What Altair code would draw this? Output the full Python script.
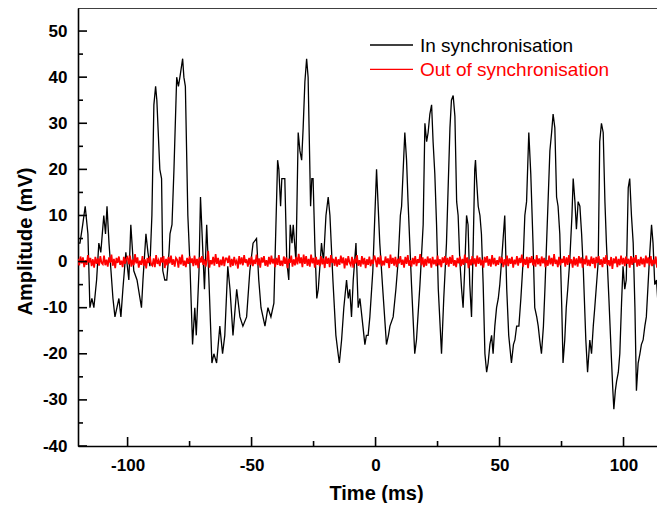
import altair as alt
import pandas as pd

SERIES = ["In synchronisation", "Out of synchronisation"]
COLORS = ["#000000", "#ff0000"]

# In synchronisation: time (ms)
sync_t = [
    -120.0, -119.2, -118.1, -117.1, -116.0, -115.2, -114.4, -113.6, -112.5, -111.6,
    -110.8, -109.6, -108.9, -108.3, -107.5, -105.9, -105.1, -104.3, -103.5, -102.7,
    -101.9, -100.7, -99.5, -98.7, -97.5, -96.2, -95.0, -94.4, -93.8, -92.6,
    -91.8, -91.0, -90.2, -89.4, -88.7, -88.2, -87.0, -86.3, -85.8, -85.0,
    -84.2, -83.3, -82.9, -82.1, -81.3, -80.2, -79.5, -78.9, -77.8, -77.3,
    -76.7, -75.7, -74.9, -73.8, -72.9, -72.3, -71.2, -70.6, -69.8, -69.0,
    -68.1, -67.2, -66.0, -65.2, -64.1, -62.8, -61.7, -60.8, -59.6, -58.7,
    -57.5, -56.0, -54.7, -53.5, -52.0, -50.7, -49.4, -48.0, -47.1, -46.2,
    -44.6, -43.4, -42.2, -41.0, -39.5, -39.0, -38.3, -37.8, -36.6, -35.8,
    -35.0, -34.4, -33.7, -33.2, -32.1, -31.2, -30.5, -29.8, -29.2, -28.5,
    -27.8, -27.2, -26.2, -25.7, -25.2, -24.5, -23.7, -23.1, -21.8, -21.0,
    -20.0, -19.1, -18.4, -17.2, -16.0, -15.1, -14.6, -13.7, -12.8, -11.7,
    -11.0, -10.4, -9.7, -9.0, -7.9, -7.0, -6.3, -5.1, -4.3, -3.7,
    -3.0, -2.3, -1.1, 0.4, 1.7, 2.9, 4.4, 5.2, 5.8, 7.1,
    8.2, 9.1, 10.0, 10.5, 11.8, 12.5, 13.1, 13.8, 14.5, 15.8,
    16.5, 17.9, 19.2, 19.9, 20.6, 21.2, 21.9, 22.6, 23.2, 23.9,
    24.6, 25.3, 26.6, 27.5, 28.6, 30.0, 30.6, 31.3, 32.0, 32.7,
    33.3, 34.0, 34.7, 35.3, 36.0, 36.7, 37.3, 38.0, 38.7, 39.4,
    40.0, 40.3, 40.7, 41.4, 42.1, 42.7, 43.4, 44.1, 44.8, 45.4,
    46.1, 46.8, 47.4, 48.1, 48.8, 49.5, 50.1, 50.8, 52.1, 52.9,
    53.7, 54.8, 55.6, 56.2, 56.9, 57.8, 58.6, 59.5, 60.2, 60.9,
    61.8, 62.6, 63.5, 64.2, 65.0, 65.6, 66.2, 66.9, 67.7, 68.3,
    69.5, 70.3, 71.0, 71.6, 72.3, 73.0, 73.6, 74.3, 75.1, 75.6,
    76.3, 76.9, 77.5, 78.3, 79.2, 79.7, 80.4, 81.0, 81.7, 82.4,
    83.1, 83.8, 84.8, 85.5, 86.4, 87.1, 87.8, 88.4, 89.8, 90.4,
    91.1, 91.8, 92.5, 93.1, 94.1, 95.2, 95.7, 96.1, 96.7, 97.2,
    97.9, 98.5, 99.2, 99.8, 100.5, 101.1, 101.9, 102.5, 103.2, 103.9,
    104.6, 105.2, 105.9, 106.6, 107.2, 107.9, 108.6, 109.2, 109.9, 110.6,
    111.3, 111.9, 112.6, 113.3, 114.0, 114.6, 115.3, 116.0, 116.7,
]

# In synchronisation: amplitude (mV)
sync_v = [
    4, 4, 8, 12, 6, -10, -8, -10, -4, 4,
    2, 10, 6, 12, 4, -8, -12, -10, -8, -12,
    -6, 2, -4, 8, -2, -4, -8, -10, -4, 6,
    2, -1, 10, 34, 38, 35, 20, 18, -2, -4,
    -4, 2, 6, 8, 20, 40, 38, 40, 44, 40,
    38, 10, 0, -18, -10, -16, -2, 14, 4, -6,
    8, -4, -22, -20, -22, -14, -20, -16, -1, -6,
    -16, -6, -12, -14, -12, -2, 4, 5, -4, -10,
    -14, -10, -12, -9, 22, 20, 12, 18, 18, 0,
    -4, 8, 4, 8, 0, 28, 24, 22, 29, 39,
    44, 40, 12, 18, 18, 4, -8, -6, 4, 0,
    10, 14, 10, -4, -16, -20, -22, -17, -10, -4,
    -8, -6, -12, -4, 4, -10, -8, -14, -18, -16,
    -16, -12, -2, 20, 4, -6, -18, -16, -14, -12,
    -6, 0, 10, 12, 28, 22, 13, 4, -5, -20,
    -17, -5, 8, 30, 26, 28, 32, 34, 26, 19,
    8, -6, -20, -8, 4, 29, 35, 36, 31.5, 13,
    10, 0, -6, -10, -1, 10, 8, -5, -12, 4,
    20, 22, 18, 12, 10, 6, -5, -20, -24, -22,
    -18, -16, -20, -14, -10, -8, -5, 0, 10, -6,
    -16, -22, -18, -17, -14, -14, -8, 0, 10, 13,
    28, 19, 4, -10, -12, -14, -17, -20, -14, -6,
    12, 24, 28, 32, 29, 14, 12, 6, -10, -22,
    -17, -10, -6, 0, 10, 18, 13, 7, 13, 12,
    6, -2, -17, -24, -17, -20, -14, -10, 0, 26,
    30, 28, 13, 4, -8, -22, -28, -32, -28, -26,
    -24, -20, -9, -1, -6, -4, 16, 18, 10, 4,
    -10, -28, -22, -20, -18, -17, -14, -12, -5, 2,
    8, 4, -5, -4, -10, -12, -17, -16, -18,
]

# Out of synchronisation: amplitude (mV), one reading every 0.5 ms from -120 ms
noise_v = [
    0.6, -0.8, 1.1, -0.4, 0.9, -1.2, 0.3, -0.7, 1.4, -0.2, 0.8, -1.0, 0.5, -1.3, 1.0, -0.5, 0.7, -0.9, 1.2, -0.3,
    -0.6, 1.3, -0.8, 0.4, -1.1, 0.9, -0.2, 1.5, -0.9, 0.6, -1.4, 0.8, -0.3, 1.1, -0.7, 0.2, -1.2, 1.0, -0.5, 0.7,
    1.0, -0.6, 1.3, -1.1, 0.4, -0.8, 1.6, -0.4, 0.9, -1.3, 0.2, -0.7, 1.2, -0.9, 0.5, -1.5, 0.8, -0.3, 1.1, -0.6,
    -0.9, 0.7, -1.2, 1.4, -0.5, 0.3, -1.0, 0.9, -0.2, 1.2, -1.4, 0.6, -0.8, 1.0, -0.4, 1.3, -0.7, 0.5, -1.1, 0.8,
    0.4, -1.3, 1.0, -0.6, 1.5, -0.9, 0.2, -1.2, 0.8, -0.5, 1.1, -0.3, 0.7, -1.0, 1.3, -0.8, 0.6, -1.4, 0.9, -0.2,
    1.2, -0.7, 0.5, -1.1, 0.4, 2.3, -1.3, 0.3, -0.6, 1.0, -0.9, 1.6, -0.5, 0.8, -1.2, 0.4, -0.8, 1.1, -1.0, 0.7,
    0.7, -0.3, 1.3, -1.2, 0.6, -0.9, 1.0, -0.4, 0.2, -1.5, 1.2, -0.6, 0.9, -0.8, 1.4, -0.3, 0.5, -1.1, 0.8, -0.7,
    1.1, -1.0, 0.4, -0.5, 1.5, -0.8, 0.7, -1.3, 0.9, -0.2, 1.2, -0.9, 0.3, -1.1, 1.0, -0.6, 1.3, -0.4, 0.6, -1.2,
    0.8, -0.7, 1.4, -0.9, 0.2, -1.0, 1.1, -0.5, 0.9, -1.4, 0.6, -0.3, 1.3, -1.1, 0.5, -0.8, 1.0, -0.6, 1.7, -0.4,
    0.9, -1.2, 1.5, -0.5, 1.2, -0.9, 0.6, -1.1, 1.5, -0.4, 0.8, -1.3, 1.0, -0.7, 0.4, -1.0, 1.2, -0.6, 0.7, -1.4,
    1.1, -0.5, 0.8, -1.2, 1.4, -0.3, 0.6, -0.9, 1.0, -1.1, 0.5, -0.7, 1.3, -0.4, 0.9, -1.5, 0.7, -0.8, 1.2, -0.2,
    -0.8, 1.0, -1.3, 0.6, -0.4, 1.4, -0.9, 0.3, -1.1, 1.2, -0.6, 0.8, -1.4, 0.5, -0.7, 1.1, -1.0, 0.4, -0.5, 1.3,
    0.5, -1.2, 0.9, -0.6, 1.3, -1.0, 0.2, -0.8, 1.1, -0.3, 0.7, -1.4, 1.5, -0.5, 0.8, -0.9, 1.0, -1.2, 0.6, -0.4,
    1.2, -0.7, 0.4, -1.3, 1.0, -0.5, 1.4, -0.9, 0.3, -1.1, 0.8, -0.6, 1.2, -1.0, 0.5, -0.3, 1.6, -0.8, 0.9, -1.2,
    0.6, -0.9, 1.1, -0.4, 0.7, -1.3, 1.0, -0.6, 0.4, -1.0, 1.3, -0.8, 0.5, -1.2, 0.9, -0.3, 1.2, -0.7, 0.8, -1.1,
    1.0, -0.5, 1.4, -0.9, 0.3, -1.2, 0.8, -0.4, 1.1, -1.0, 0.6, -0.7, 1.5, -0.3, 0.9, -1.4, 0.5, -0.8, 1.2, -0.6,
    0.7, -1.1, 1.3, -0.5, 0.9, -0.8, 0.4, -1.3, 1.0, -0.2, 1.2, -0.9, 0.6, -1.1, 1.4, -0.6, 0.8, -1.0, 0.3, -0.7,
    1.1, -0.4, 0.9, -1.2, 0.5, -0.8, 1.3, -1.0, 0.7, -0.5, 1.0, -1.3, 0.4, -0.6, 1.2, -0.9, 0.8, -0.3, 1.5, -1.1,
    0.6, -0.7, 1.0, -1.4, 0.9, -0.3, 1.2, -0.8, 0.5, -1.1, 1.4, -0.6, 0.7, -1.0, 1.1, -0.4, 0.8, -1.2, 0.3, -0.9,
    1.3, -0.6, 0.8, -1.0, 1.6, -0.5, 0.4, -1.2, 1.0, -0.8, 0.6, -0.3, 1.2, -1.1, 0.9, -0.7, 1.4, -0.4, 0.5, -1.3,
    1.0, -0.8, 0.7, -1.1, 1.2, -0.4, 0.9, -1.3, 0.6, -0.6, 1.3, -0.9, 0.4, -1.0, 1.1, -0.5, 0.8, -1.4, 1.0, -0.3,
    1.2, -0.7, 0.5, -1.2, 0.9, -0.5, 1.4, -0.8, 0.3, -1.0, 1.0, -1.6, 0.7, -0.4, 1.1, -1.2, 0.6, -0.8, 1.3, -0.6,
    0.8, -1.0, 1.1, -0.5, 0.6, -1.3, 1.2, -0.7, 0.9, -0.3, 1.4, -1.1, 0.5, -0.9, 1.0, -0.6, 0.7, -1.2, 1.3, -0.4,
    0.9, -0.8, 1.2, -1.0, 0.4, -0.6, 1.1, -1.3, 0.8, -0.5, 1.5, -0.9, 0.6, -0.7, 1.0, -1.1, 0.3, -0.4, 1.2, -0.8,
]
noise_t = [round(-120 + 0.5 * i, 1) for i in range(len(noise_v))]

x_ticks_major = [-100, -50, 0, 50, 100]
x_ticks_minor = [-75, -25, 25, 75]
y_ticks_major = [-40, -30, -20, -10, 0, 10, 20, 30, 40, 50]
y_ticks_minor = [-35, -25, -15, -5, 5, 15, 25, 35, 45]

X_DOMAIN = [-120, 113.5]
Y_DOMAIN = [-40, 55]
W, H = 579, 438
FONT = "Liberation Sans"

sync_df = pd.DataFrame({"t": sync_t, "v": sync_v})
noise_df = pd.DataFrame({"t": noise_t, "v": noise_v})

xs = alt.Scale(domain=X_DOMAIN, nice=False, zero=False)
ys = alt.Scale(domain=Y_DOMAIN, nice=False, zero=False)

xaxis = alt.Axis(
    values=x_ticks_major, ticks=False, grid=False,
    domainColor="black", domainWidth=1.6,
    labelFont=FONT, labelFontSize=17, labelFontWeight="bold", labelColor="black",
    labelPadding=11, labelExpr="'' + datum.value",
    title="Time (ms)", titleFont=FONT, titleFontSize=20, titleFontWeight="bold",
    titleColor="black", titleX=298, titleY=53, titleBaseline="alphabetic", titleAlign="center",
)
yaxis = alt.Axis(
    values=y_ticks_major, ticks=False, grid=False,
    domainColor="black", domainWidth=1.6,
    labelFont=FONT, labelFontSize=17, labelFontWeight="bold", labelColor="black",
    labelPadding=11, labelExpr="'' + datum.value",
    title="Amplitude (mV)", titleFont=FONT, titleFontSize=20, titleFontWeight="bold",
    titleColor="black", titleAngle=270, titleX=-47, titleY=233,
    titleBaseline="alphabetic", titleAlign="center",
)

X = alt.X("t:Q", scale=xs, axis=xaxis)
Y = alt.Y("v:Q", scale=ys, axis=yaxis)

black = alt.Chart(sync_df).mark_line(color=COLORS[0], strokeWidth=1.3, clip=True).encode(x=X, y=Y)
red = alt.Chart(noise_df).mark_line(color=COLORS[1], strokeWidth=1.7, clip=True).encode(x=X, y=Y)

def xticks(vals, length):
    df = pd.DataFrame({"t": vals})
    return alt.Chart(df).mark_rule(color="black", strokeWidth=1.6).encode(
        x=X, y=alt.value(H), y2=alt.value(H - length))

def yticks(vals, length):
    df = pd.DataFrame({"v": vals})
    return alt.Chart(df).mark_rule(color="black", strokeWidth=1.6).encode(
        y=Y, x=alt.value(0), x2=alt.value(length))

one = pd.DataFrame({"k": [0]})
top_border = alt.Chart(one).mark_rule(color="black", strokeWidth=1.6).encode(
    x=alt.value(0), x2=alt.value(W), y=alt.value(0))

legend_layers = []
for i, (name, col) in enumerate(zip(SERIES, COLORS)):
    ly = 37 + 24.3 * i
    legend_layers.append(
        alt.Chart(one).mark_rule(color=col, strokeWidth=1.3).encode(
            x=alt.value(292), x2=alt.value(335), y=alt.value(ly)))
    legend_layers.append(
        alt.Chart(one).mark_text(align="left", baseline="alphabetic", font=FONT,
                                 fontSize=19, color=col).encode(
            x=alt.value(342), y=alt.value(ly + 7), text=alt.value(name)))

chart = alt.layer(
    black, red,
    xticks(x_ticks_major, 9), xticks(x_ticks_minor, 5),
    yticks(y_ticks_major, 9), yticks(y_ticks_minor, 5),
    top_border,
    *legend_layers,
).properties(
    width=W, height=H,
    padding={"left": 70, "top": 0, "right": 0, "bottom": 57},
    autosize=alt.AutoSizeParams(type="none"),
    background="white",
).configure_view(strokeWidth=0)

chart.save("out.html", embed_options={"renderer": "svg", "actions": False})
